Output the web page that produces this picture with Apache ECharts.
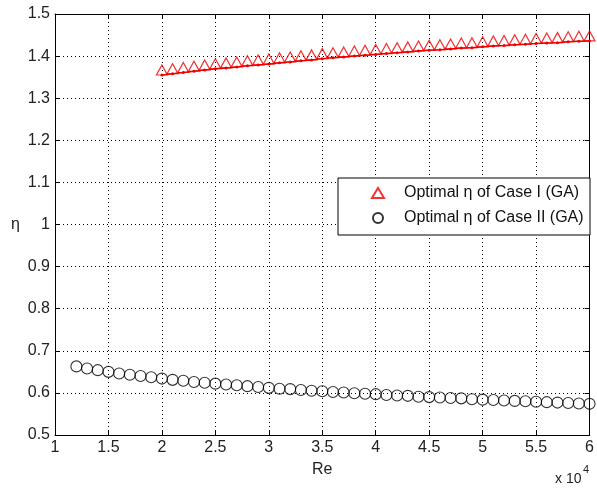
<!DOCTYPE html>
<html>
<head>
<meta charset="utf-8">
<script src="https://cdn.jsdelivr.net/npm/echarts@6/dist/echarts.min.js"></script>
<style>
html,body{margin:0;padding:0;background:#fff;}
#c{width:597px;height:489px;}
</style>
</head>
<body>
<div id="c"></div>
<script>
// Re values (x 10^4)
var reCaseI = [2.0,2.1,2.2,2.3,2.4,2.5,2.6,2.7,2.8,2.9,3.0,3.1,3.2,3.3,3.4,3.5,3.6,3.7,3.8,3.9,4.0,4.1,4.2,4.3,4.4,4.5,4.6,4.7,4.8,4.9,5.0,5.1,5.2,5.3,5.4,5.5,5.6,5.7,5.8,5.9,6.0];
var etaCaseI = [1.355,1.358,1.361,1.364,1.367,1.370,1.372,1.374,1.377,1.379,1.381,1.384,1.386,1.389,1.391,1.394,1.396,1.398,1.400,1.402,1.404,1.406,1.408,1.410,1.412,1.414,1.415,1.417,1.419,1.420,1.422,1.424,1.425,1.427,1.428,1.430,1.431,1.432,1.434,1.435,1.436];
var reCaseII = [1.2,1.3,1.4,1.5,1.6,1.7,1.8,1.9,2.0,2.1,2.2,2.3,2.4,2.5,2.6,2.7,2.8,2.9,3.0,3.1,3.2,3.3,3.4,3.5,3.6,3.7,3.8,3.9,4.0,4.1,4.2,4.3,4.4,4.5,4.6,4.7,4.8,4.9,5.0,5.1,5.2,5.3,5.4,5.5,5.6,5.7,5.8,5.9,6.0];
var etaCaseII = [0.663,0.658,0.654,0.650,0.646,0.643,0.640,0.637,0.634,0.631,0.629,0.626,0.624,0.622,0.620,0.618,0.616,0.614,0.612,0.610,0.609,0.607,0.605,0.604,0.602,0.601,0.599,0.598,0.597,0.595,0.594,0.593,0.591,0.590,0.589,0.588,0.587,0.585,0.584,0.583,0.582,0.581,0.580,0.579,0.578,0.577,0.576,0.575,0.574];
var xTickLabels = ['1','1.5','2','2.5','3','3.5','4','4.5','5','5.5','6'];
var yTickLabels = ['0.5','0.6','0.7','0.8','0.9','1','1.1','1.2','1.3','1.4','1.5'];
var nameCaseI = 'Optimal \u03B7 of Case I (GA)';
var nameCaseII = 'Optimal \u03B7 of Case II (GA)';

function pairs(xs, ys){ return xs.map(function(x,i){ return [x, ys[i]]; }); }

var FONT = 'Liberation Sans, Arial, sans-serif';
var chart = echarts.init(document.getElementById('c'), null, {renderer:'canvas'});

var gridLine = {show:true, lineStyle:{color:'#000', width:1, type:[1,3]}};
var axisLine = {show:true, lineStyle:{color:'#000', width:1}};
var tick = {show:true, inside:true, length:5, lineStyle:{color:'#000'}};

chart.setOption({
  animation:false,
  backgroundColor:'#fff',
  grid:{left:55, right:5, top:14, bottom:54, containLabel:false},
  xAxis:[{
    type:'value', min:1, max:6, interval:0.5, position:'bottom',
    axisLine:axisLine, axisTick:tick, splitLine:gridLine,
    axisLabel:{color:'#222', fontSize:16, fontFamily:FONT, margin:5,
      formatter:function(v){ return xTickLabels[Math.round((v-1)/0.5)]; }},
    name:'Re', nameLocation:'middle', nameGap:27,
    nameTextStyle:{color:'#222', fontSize:16, fontFamily:FONT}
  },{
    type:'value', min:1, max:6, interval:0.5, position:'top',
    axisLine:axisLine, axisTick:tick, splitLine:{show:false}, axisLabel:{show:false}
  }],
  yAxis:[{
    type:'value', min:0.5, max:1.5, interval:0.1, position:'left',
    axisLine:axisLine, axisTick:tick, splitLine:gridLine,
    axisLabel:{color:'#222', fontSize:16, fontFamily:FONT, margin:5,
      formatter:function(v){ return yTickLabels[Math.round((v-0.5)/0.1)]; }},
    name:'\u03B7', nameLocation:'middle', nameGap:35, nameRotate:0,
    nameTextStyle:{color:'#222', fontSize:16, fontFamily:FONT}
  },{
    type:'value', min:0.5, max:1.5, interval:0.1, position:'right',
    axisLine:axisLine, axisTick:tick, splitLine:{show:false}, axisLabel:{show:false}
  }],
  legend:{
    left:371, top:185, orient:'vertical', padding:0, itemGap:9,
    itemWidth:12, itemHeight:10, symbolKeepAspect:true,
    data:[nameCaseI, nameCaseII],
    textStyle:{color:'#111', fontSize:16, fontFamily:FONT, padding:[0,0,0,15]}
  },
  graphic:[
    {type:'rect', z:3, shape:{x:338, y:178, width:252, height:57},
      style:{fill:'#fff', stroke:'#000', lineWidth:1}},
    {type:'text', left:555, top:472, z:5,
      style:{text:'x 10', fill:'#222', font:'14px '+FONT}},
    {type:'text', left:583, top:464, z:5,
      style:{text:'4', fill:'#222', font:'11px '+FONT}}
  ],
  series:[
    {
      name:'caseI-line', type:'line', data:pairs(reCaseI, etaCaseI),
      symbol:'circle', symbolSize:3, showSymbol:true,
      lineStyle:{color:'#e00', width:1.5},
      itemStyle:{color:'#e00'}, z:2, silent:true
    },
    {
      name:nameCaseI, type:'scatter', data:pairs(reCaseI, etaCaseI),
      symbol:'triangle', symbolSize:[11,10], symbolOffset:[0,-5], symbolKeepAspect:true,
      itemStyle:{color:'rgba(255,255,255,0)', borderColor:'#e00', borderWidth:1.2}, z:3
    },
    {
      name:nameCaseII, type:'scatter', data:pairs(reCaseII, etaCaseII),
      symbol:'circle', symbolSize:11, symbolKeepAspect:true,
      itemStyle:{color:'rgba(255,255,255,0)', borderColor:'#000', borderWidth:1.1}, z:3
    }
  ]
});
</script>
</body>
</html>
